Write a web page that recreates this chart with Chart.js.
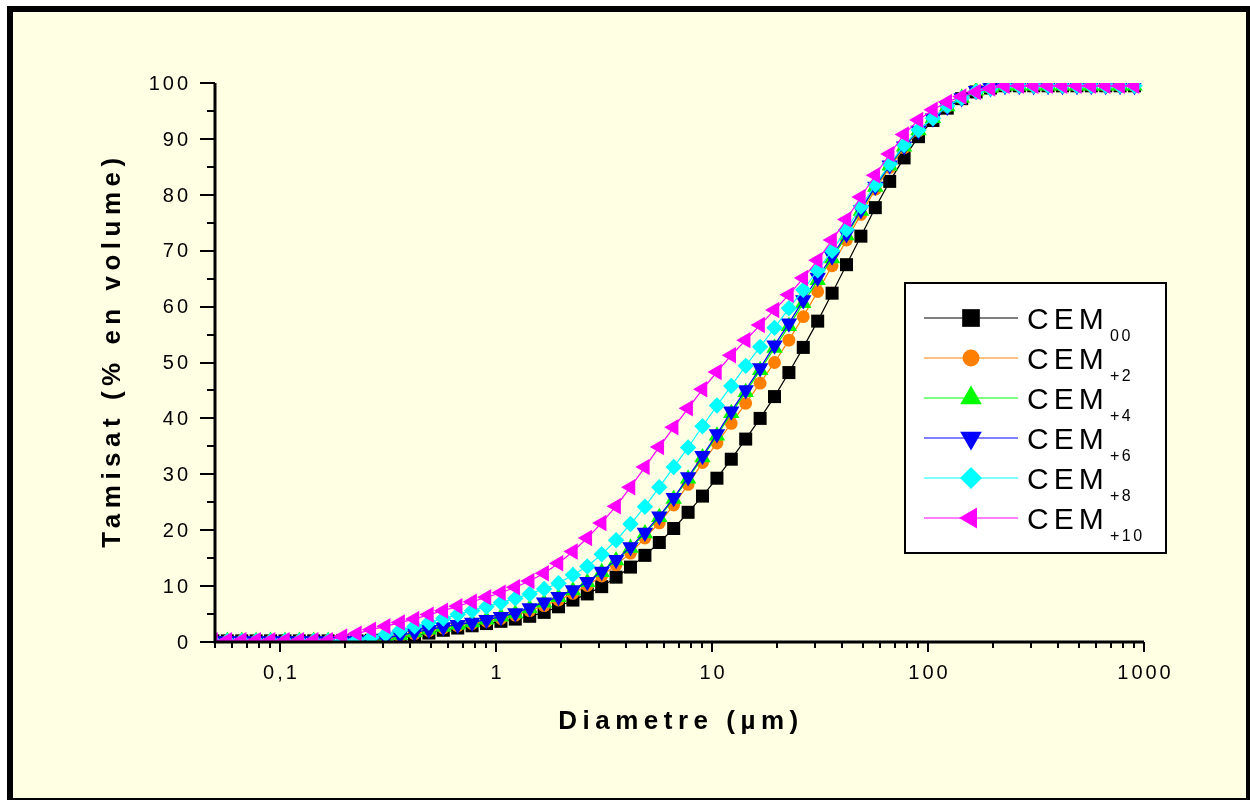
<!DOCTYPE html>
<html>
<head>
<meta charset="utf-8">
<script src="https://cdn.jsdelivr.net/npm/chart.js@4.4.1/dist/chart.umd.min.js"></script>
<style>
  html, body { margin: 0; padding: 0; background: #ffffff; }
  #frame {
    position: absolute; left: 7px; top: 6px; width: 1243px; height: 794px;
    box-sizing: border-box; border-style: solid; border-color: #000;
    border-width: 6px 4px 2px 6px; background: #FFFFE3;
  }
  #wrap { position: absolute; left: 0; top: 0; width: 1250px; height: 800px; }
  canvas { display: block; }
</style>
</head>
<body>
<div id="frame"></div>
<div id="wrap"><canvas id="c" width="1250" height="800"></canvas></div>
<script>
// Particle diameters (µm), log-spaced classes
const diameters = [0.0489,0.0570,0.0665,0.0775,0.0904,0.1054,0.1228,0.1432,0.1670,0.1947,
  0.2270,0.2646,0.3085,0.3597,0.4194,0.4890,0.5701,0.6647,0.7750,0.9036,
  1.054,1.228,1.432,1.670,1.947,2.270,2.646,3.085,3.597,4.194,
  4.890,5.701,6.647,7.750,9.036,10.54,12.28,14.32,16.70,19.47,
  22.70,26.46,30.85,35.97,41.94,48.90,57.01,66.47,77.50,90.36,
  105.4,122.8,143.2,167.0,194.7,227.0,264.6,308.5,359.7,419.4,
  489.0,570.1,664.7,775.0,903.6];

// Cumulative passing (% volume) for each cement
const cem00 = [0.2,0.2,0.2,0.2,0.2,0.2,0.2,0.2,0.2,0.2,0.2,
  0.3,0.4,0.7,1.1,1.6,2.1,2.5,2.9,3.3,3.7,
  4.1,4.6,5.3,6.3,7.5,8.6,9.9,11.6,13.4,15.5,
  17.8,20.3,23.2,26.1,29.3,32.7,36.3,40.0,43.9,48.2,
  52.7,57.4,62.4,67.5,72.6,77.7,82.4,86.6,90.4,93.3,
  95.5,97.2,98.4,99.1,
  99.5,99.5,99.5,99.5,99.5,99.5,99.5,99.5,99.5,99.5];
const cemP2 = [0.2,0.2,0.2,0.2,0.2,0.2,0.2,0.2,0.2,0.2,0.2,
  0.3,0.5,1.0,1.5,2.0,2.5,2.9,3.3,3.7,4.2,
  4.8,5.6,6.5,7.5,8.7,10.1,11.8,13.8,15.9,18.6,
  21.3,24.5,28.2,32.1,35.6,39.1,42.7,46.3,50.0,54.0,
  58.2,62.7,67.3,71.9,76.5,81.0,84.9,88.4,91.4,93.7,
  95.8,97.3,98.6,99.1,
  99.5,99.5,99.5,99.5,99.5,99.5,99.5,99.5,99.5,99.5];
const cemP4 = [0.2,0.2,0.2,0.2,0.2,0.2,0.2,0.2,0.2,0.2,0.2,
  0.4,0.7,1.2,1.7,2.2,2.7,3.1,3.5,4.0,4.5,
  5.1,6.0,7.0,8.0,9.2,10.7,12.5,14.6,16.8,19.4,
  22.3,25.6,29.2,33.0,36.9,40.9,44.7,48.6,52.6,56.5,
  60.6,64.7,68.6,72.7,77.1,81.4,85.2,88.6,91.5,93.7,
  95.8,97.3,98.6,99.1,
  99.5,99.5,99.5,99.5,99.5,99.5,99.5,99.5,99.5,99.5];
const cemP6 = [0.2,0.2,0.2,0.2,0.2,0.2,0.2,0.2,0.2,0.2,0.2,
  0.4,0.7,1.2,1.7,2.2,2.7,3.1,3.5,4.0,4.5,
  5.2,6.1,7.1,8.1,9.3,10.8,12.6,14.7,17.0,19.6,
  22.5,25.8,29.5,33.3,37.2,41.3,45.1,49.0,53.1,57.0,
  61.2,65.2,69.0,73.0,77.3,81.5,85.3,88.7,91.5,93.7,
  95.8,97.3,98.6,99.1,
  99.5,99.5,99.5,99.5,99.5,99.5,99.5,99.5,99.5,99.5];
const cemP8 = [0.2,0.2,0.2,0.2,0.2,0.2,0.2,0.2,0.2,0.2,
  0.4,0.8,1.4,2.1,2.8,3.5,4.2,4.9,5.6,6.3,7.0,
  7.8,8.6,9.5,10.5,12.0,13.5,15.7,18.2,21.1,24.2,
  27.7,31.3,34.8,38.6,42.3,45.8,49.4,52.8,56.2,59.7,
  63.0,66.5,70.0,73.8,77.9,81.8,85.5,88.9,91.6,93.7,
  95.9,97.3,98.5,99.0,
  99.5,99.5,99.5,99.5,99.5,99.5,99.5,99.5,99.5,99.5];
const cemP10 = [0.3,0.3,0.3,0.3,0.3,0.3,0.3,0.3,0.3,
  1.0,1.5,2.2,2.8,3.5,4.1,4.9,5.6,6.4,7.2,8.0,8.8,
  9.8,10.9,12.3,14.1,16.2,18.6,21.3,24.3,27.7,31.3,
  34.9,38.4,41.8,45.2,48.3,51.3,54.0,56.7,59.4,62.1,
  65.1,68.3,71.9,75.6,79.6,83.5,87.3,90.8,93.4,95.2,
  96.6,97.6,98.4,99.0,
  99.5,99.5,99.5,99.5,99.5,99.5,99.5,99.5,99.5,99.5];

// Series names (base + subscript)
const seriesNames = ['CEM', 'CEM', 'CEM', 'CEM', 'CEM', 'CEM'];
const seriesSubs = ['00', '+2', '+4', '+6', '+8', '+10'];

// Axis ticks
const xMajorValues = [0.1, 1, 10, 100, 1000];
const xMajorLabels = ['0,1', '1', '10', '100', '1000'];
const yMajorValues = [0, 10, 20, 30, 40, 50, 60, 70, 80, 90, 100];

const FONT = '"Liberation Sans", Arial, Helvetica, sans-serif';

const styles = [
  { color: '#000000', pointStyle: 'rect',     rotation: 0,   radius: 9.2, legendRadius: 12.5 },
  { color: '#FF8000', pointStyle: 'circle',   rotation: 0,   radius: 6.4, legendRadius: 8.5 },
  { color: '#00FF00', pointStyle: 'triangle', rotation: 0,   radius: 9.5, legendRadius: 12.5 },
  { color: '#0000FF', pointStyle: 'triangle', rotation: 180, radius: 9.5, legendRadius: 12.5 },
  { color: '#00FFFF', pointStyle: 'rectRot',  rotation: 0,   radius: 8.2, legendRadius: 11 },
  { color: '#FF00FF', pointStyle: 'triangle', rotation: 270, radius: 9.5, legendRadius: 12 }
];
const seriesValues = [cem00, cemP2, cemP4, cemP6, cemP8, cemP10];

function toPoints(values) {
  return values.map((v, i) => ({ x: diameters[i], y: v }));
}

const datasets = seriesValues.map((vals, i) => ({
  label: seriesNames[i] + seriesSubs[i],
  data: toPoints(vals),
  showLine: true,
  borderColor: styles[i].color,
  backgroundColor: styles[i].color,
  borderWidth: 1.2,
  tension: 0,
  pointStyle: styles[i].pointStyle,
  pointRotation: styles[i].rotation,
  pointRadius: styles[i].radius,
  pointHoverRadius: styles[i].radius,
  pointBackgroundColor: styles[i].color,
  pointBorderColor: styles[i].color,
  pointBorderWidth: 0,
  clip: 0,
  order: 5 - i
}));

function drawMarker(ctx, style, rot, r, x, y) {
  ctx.beginPath();
  if (style === 'rect') {
    const s = Math.SQRT1_2 * r;
    ctx.rect(x - s, y - s, 2 * s, 2 * s);
  } else if (style === 'circle') {
    ctx.arc(x, y, r, 0, Math.PI * 2);
  } else if (style === 'rectRot') {
    ctx.moveTo(x - r, y); ctx.lineTo(x, y - r); ctx.lineTo(x + r, y); ctx.lineTo(x, y + r);
    ctx.closePath();
  } else {
    let a = rot * Math.PI / 180;
    for (let k = 0; k < 3; k++) {
      const px = x + Math.sin(a) * r, py = y - Math.cos(a) * r;
      if (k) ctx.lineTo(px, py); else ctx.moveTo(px, py);
      a += 2 * Math.PI / 3;
    }
    ctx.closePath();
  }
  ctx.fill();
}

// Axes, ticks, titles and legend box
const decorations = {
  id: 'decorations',
  afterDraw(chart) {
    const ctx = chart.ctx;
    const xs = chart.scales.x, ys = chart.scales.y;
    const a = chart.chartArea;
    ctx.save();
    ctx.strokeStyle = '#000';
    ctx.fillStyle = '#000';

    // axis lines
    ctx.lineWidth = 3;
    ctx.beginPath();
    ctx.moveTo(a.left, a.top);
    ctx.lineTo(a.left, a.bottom + 1.5);
    ctx.moveTo(a.left - 1.5, a.bottom);
    ctx.lineTo(a.right, a.bottom);
    ctx.stroke();

    // y ticks (major every 10, minor every 5)
    ctx.lineWidth = 2;
    ctx.beginPath();
    for (let v = 0; v <= 100; v += 5) {
      const py = Math.round(ys.getPixelForValue(v));
      const len = v % 10 === 0 ? 15 : 8;
      ctx.moveTo(a.left - len, py);
      ctx.lineTo(a.left, py);
    }
    // x ticks (decades major, 2..9 minor)
    for (let e = -2; e <= 3; e++) {
      const base = Math.pow(10, e);
      for (let m = 1; m <= 9; m++) {
        const val = m * base;
        if (val < xs.min * 0.999 || val > xs.max * 1.001) continue;
        const px = Math.round(xs.getPixelForValue(val));
        const len = m === 1 ? 10 : 6;
        ctx.moveTo(px, a.bottom);
        ctx.lineTo(px, a.bottom + len);
      }
    }
    ctx.stroke();

    // tick labels
    ctx.font = '20px ' + FONT;
    ctx.letterSpacing = '3px';
    ctx.textBaseline = 'alphabetic';
    ctx.textAlign = 'right';
    yMajorValues.forEach(v => {
      const py = ys.getPixelForValue(v);
      ctx.fillText(String(v), 191, py + 6.7);
    });
    ctx.textAlign = 'center';
    xMajorValues.forEach((v, i) => {
      const px = xs.getPixelForValue(v);
      ctx.fillText(xMajorLabels[i], px + 1.5, 679);
    });

    // axis titles
    ctx.font = 'bold 26px ' + FONT;
    ctx.letterSpacing = '5.5px';
    ctx.textAlign = 'center';
    ctx.fillText('Diametre (\u00B5m)', 681, 729);
    ctx.save();
    ctx.translate(120, 350);
    ctx.rotate(-Math.PI / 2);
    ctx.fillText('Tamisat (% en volume)', 0, 0);
    ctx.restore();

    // legend
    ctx.letterSpacing = '0px';
    ctx.fillStyle = '#ffffff';
    ctx.fillRect(905, 283, 261, 270);
    ctx.lineWidth = 2;
    ctx.strokeStyle = '#000';
    ctx.strokeRect(905, 283, 261, 270);
    styles.forEach((s, i) => {
      const cy = 318 + 40 * i;
      ctx.lineWidth = 1;
      ctx.strokeStyle = s.color;
      ctx.beginPath();
      ctx.moveTo(924, cy);
      ctx.lineTo(1018, cy);
      ctx.stroke();
      ctx.fillStyle = s.color;
      drawMarker(ctx, s.pointStyle, s.rotation, s.legendRadius, 971, cy);
      ctx.fillStyle = '#000';
      ctx.textAlign = 'left';
      ctx.font = '30px ' + FONT;
      ctx.letterSpacing = '5px';
      ctx.fillText(seriesNames[i], 1027, cy + 10.6);
      ctx.font = '16px ' + FONT;
      ctx.letterSpacing = '2.5px';
      ctx.fillText(seriesSubs[i], 1110, cy + 22.5);
    });
    ctx.restore();
  }
};

new Chart(document.getElementById('c'), {
  type: 'scatter',
  data: { datasets },
  options: {
    responsive: false,
    animation: false,
    events: [],
    layout: { padding: { left: 215, right: 106, top: 83, bottom: 158 } },
    plugins: { legend: { display: false }, tooltip: { enabled: false } },
    scales: {
      x: { type: 'logarithmic', min: 0.05, max: 1000, display: false },
      y: { type: 'linear', min: 0, max: 100, display: false }
    }
  },
  plugins: [decorations]
});
</script>
</body>
</html>
